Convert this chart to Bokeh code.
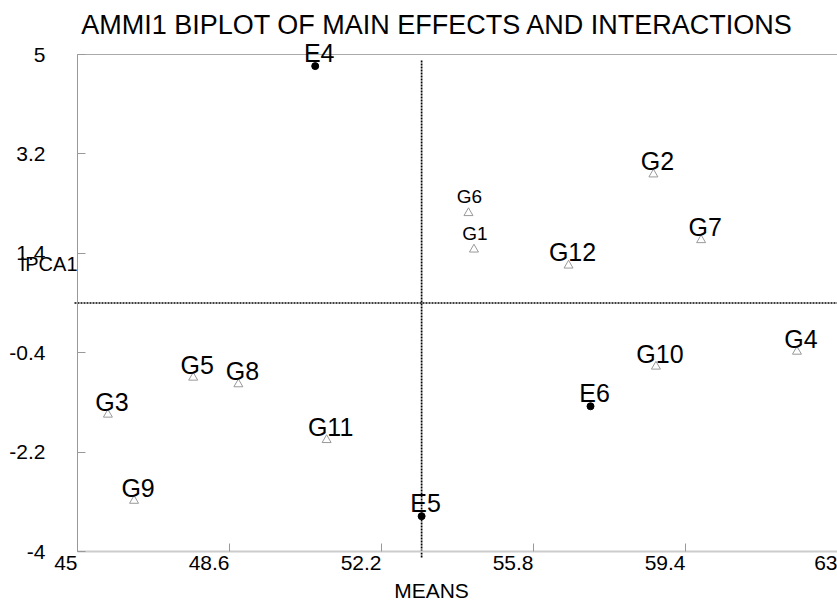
from bokeh.plotting import figure
from bokeh.models import ColumnDataSource, FixedTicker, LinearAxis, Label, Range1d
from bokeh.embed import file_html
from bokeh.resources import INLINE

# ---- data ----
genotypes = ["G1", "G2", "G3", "G4", "G5", "G6", "G7", "G8", "G9", "G10", "G11", "G12"]
g_means = [54.39, 58.64, 45.72, 62.04, 47.74, 54.26, 59.77, 48.81, 46.34, 58.70, 50.90, 56.63]
g_ipca1 = [1.47, 2.83, -1.52, -0.38, -0.85, 2.13, 1.64, -0.97, -3.08, -0.65, -1.98, 1.18]

environments = ["E4", "E5", "E6"]
e_means = [50.63, 53.15, 57.15]
e_ipca1 = [4.79, -3.36, -1.37]

grand_mean = 53.15
ipca_ref = 0.5

x_ticks = [45, 48.6, 52.2, 55.8, 59.4, 63]
x_tick_labels = ["45", "48.6", "52.2", "55.8", "59.4", "63"]
y_ticks = [-4, -2.2, -0.4, 1.4, 3.2, 5]
y_tick_labels = ["-4", "-2.2", "-0.4", "1.4", "3.2", "5"]

FONT = "Liberation Sans"
small_labels = {"G1", "G6"}

# ---- layout: the plotting box of the original sits at these pixel margins ----
W, H = 837, 601
LEFT, RIGHT, TOP, BOTTOM = 77, 0, 54, 50
x0, x1 = min(x_ticks), max(x_ticks)
y0, y1 = min(y_ticks), max(y_ticks)
xpp = (x1 - x0) / (W - LEFT - RIGHT)   # data units per pixel
ypp = (y1 - y0) / (H - TOP - BOTTOM)

p = figure(width=W, height=H,
           x_range=Range1d(x0 - LEFT * xpp, x1 + RIGHT * xpp),
           y_range=Range1d(y0 - BOTTOM * ypp, y1 + TOP * ypp),
           output_backend="svg", toolbar_location=None, min_border=0)
p.title.visible = False
p.grid.visible = False
p.outline_line_color = None
p.background_fill_color = "white"

# axes placed at the box edges
p.xaxis.fixed_location = y0
p.xaxis.bounds = (x0, x1)
p.yaxis.fixed_location = x0
p.yaxis.bounds = (y0, y1)
p.xaxis.ticker = FixedTicker(ticks=x_ticks)
p.yaxis.ticker = FixedTicker(ticks=y_ticks)
p.yaxis.major_label_overrides = {float(t): l for t, l in zip(y_ticks, y_tick_labels)}
for ax in (p.xaxis, p.yaxis):
    ax.major_tick_in = 8
    ax.major_tick_out = 0
    ax.major_tick_line_color = "#999999"
    ax.minor_tick_line_color = None
    ax.major_label_text_font = FONT
    ax.major_label_text_font_size = "21px"
    ax.major_label_text_color = "black"
p.xaxis.axis_line_color = "#cccccc"
p.xaxis.axis_line_width = 2
p.xaxis.major_label_text_color = None   # x tick labels drawn right-aligned below
p.yaxis.axis_line_color = "#999999"
p.yaxis.major_label_standoff = 32

top_axis = LinearAxis(fixed_location=y1, bounds=(x0, x1), ticker=FixedTicker(ticks=[]),
                      axis_line_color="#aaaaaa", major_tick_line_color=None,
                      minor_tick_line_color=None, major_label_text_color=None)
p.add_layout(top_axis, "above")

# x tick labels: right edge at the tick, as in the original
for t, lab in zip(x_ticks, x_tick_labels):
    p.add_layout(Label(x=t, y=H - 562, x_units="data", y_units="screen", text=lab,
                       text_align="right", text_baseline="middle",
                       text_font=FONT, text_font_size="21px", text_color="black"))

# reference lines (dotted)
p.segment(x0=[grand_mean], y0=[y1 - 6 * ypp], x1=[grand_mean], y1=[y0 - 7 * ypp],
          line_color="black", line_width=1.7, line_dash="2 1")
p.segment(x0=[x0 - 3 * xpp], y0=[ipca_ref], x1=[x1], y1=[ipca_ref],
          line_color="black", line_width=1.7, line_dash="2 1")

# points
gsrc = ColumnDataSource(dict(x=g_means, y=g_ipca1, name=genotypes))
esrc = ColumnDataSource(dict(x=e_means, y=e_ipca1, name=environments))
p.scatter("x", "y", source=gsrc, marker="triangle", size=9, fill_color=None,
          line_color="#999999", line_width=1)
p.scatter("x", "y", source=esrc, marker="circle", size=7, fill_color="black",
          line_color="black")

for names, xs, ys in ((genotypes, g_means, g_ipca1), (environments, e_means, e_ipca1)):
    for n, xv, yv in zip(names, xs, ys):
        small = n in small_labels
        p.add_layout(Label(x=xv, y=yv, text=n,
                           x_offset=1 if small else 4, y_offset=16 if small else 13,
                           text_align="center", text_baseline="middle",
                           text_font=FONT, text_font_size="19px" if small else "25px",
                           text_color="black"))

# titles (screen units: pixels from the lower-left corner)
p.add_layout(Label(x=437, y=H - 24, x_units="screen", y_units="screen",
                   text="AMMI1 BIPLOT OF MAIN EFFECTS AND INTERACTIONS",
                   text_align="center", text_baseline="middle",
                   text_font=FONT, text_font_size="27px", text_color="black"))
p.add_layout(Label(x=431, y=H - 590, x_units="screen", y_units="screen", text="MEANS",
                   text_align="center", text_baseline="middle",
                   text_font=FONT, text_font_size="21px", text_color="black"))
p.add_layout(Label(x=LEFT, y=H - 263, x_units="screen", y_units="screen", text="IPCA1",
                   text_align="right", text_baseline="middle",
                   text_font=FONT, text_font_size="20px", text_color="black"))

open("out.html", "w").write(file_html(p, INLINE))
